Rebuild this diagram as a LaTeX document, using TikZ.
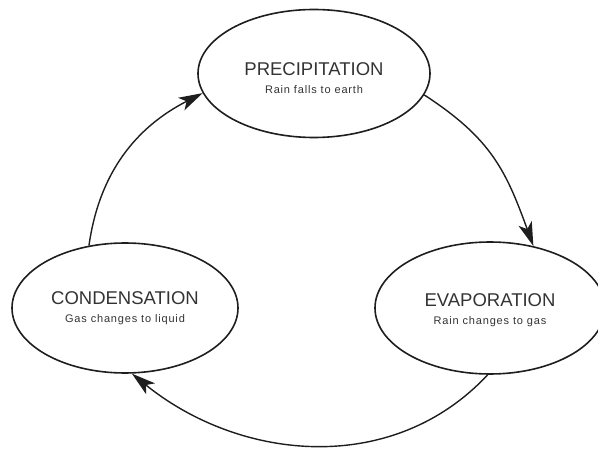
\documentclass[tikz,border=0pt]{standalone}
\usepackage{fontspec}
\setmainfont{Liberation Sans}
\newfontfamily\subfont[LetterSpace=7.5]{Liberation Sans}
\usetikzlibrary{shapes.geometric,arrows.meta}
\definecolor{inkline}{HTML}{1E1E1E}
\definecolor{inktext}{HTML}{333333}
% title over subtitle; the optional strut pushes the pair down inside its ellipse
\newcommand{\stagetext}[3][0pt]{\rule{0pt}{#1}{\fontsize{18.5}{18}\selectfont #2}\\{\subfont\fontsize{11}{18}\selectfont #3}}
\begin{document}
\begin{tikzpicture}[x=1pt,y=1pt,
  stage/.style={ellipse, draw=inkline, line width=1.6pt, inner sep=0pt,
    align=center, text=inktext, font=\fontsize{11}{18}\selectfont},
  flow/.style={draw=inkline, line width=1.4pt,
    -{Stealth[length=24pt,width=14pt,inset=6pt]}}]
\useasboundingbox (0,0) rectangle (598,448);
% the three stages of the cycle
\node[stage, minimum width=232pt, minimum height=128pt] (precip) at (314,374.5)
  {\stagetext[22pt]{PRECIPITATION}{Rain falls to earth}};
\node[stage, minimum width=226pt, minimum height=130pt] (cond) at (125,140)
  {\stagetext{CONDENSATION}{Gas changes to liquid}};
\node[stage, minimum width=230pt, minimum height=132pt] (evap) at (490,140)
  {\stagetext[18pt]{EVAPORATION}{Rain changes to gas}};
% arrows running round the cycle
\draw[flow] (cond.120) to[out=82, in=207] (precip.190);
\draw[flow] (precip.-11) to[out=-33, in=110, looseness=1.1] (evap.55);
\draw[flow] (evap.268) to[out=227, in=-39] (cond.276);
\end{tikzpicture}
\end{document}
